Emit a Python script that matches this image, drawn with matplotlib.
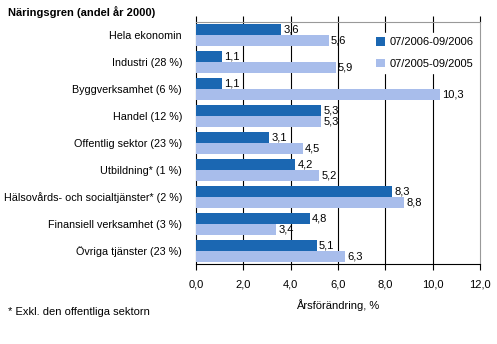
import matplotlib
matplotlib.use("Agg")
import matplotlib.pyplot as plt
import numpy as np

# Data
categories = ["Hela ekonomin", "Industri (28 %)", "Byggverksamhet (6 %)", "Handel (12 %)",
              "Offentlig sektor (23 %)", "Utbildning* (1 %)",
              "Hälsovårds- och socialtjänster* (2 %)", "Finansiell verksamhet (3 %)",
              "Övriga tjänster (23 %)"]
y2006 = [3.6, 1.1, 1.1, 5.3, 3.1, 4.2, 8.3, 4.8, 5.1]
y2005 = [5.6, 5.9, 10.3, 5.3, 4.5, 5.2, 8.8, 3.4, 6.3]
labels = ["07/2006-09/2006", "07/2005-09/2005"]
xticks = [0, 2, 4, 6, 8, 10, 12]

plt.rcParams['font.family'] = ['Liberation Sans', 'DejaVu Sans']
plt.rcParams['font.size'] = 8

dark = "#1b67b2"
light = "#a8bdeb"

fig = plt.figure(figsize=(4.97, 3.44), dpi=100)
ax = fig.add_axes([196/497, 1-264/344, 284/497, 242/344])

n = len(categories)
pos = np.arange(n)
h = 0.41
ax.barh(pos - h/2, y2006, height=h, color=dark, label=labels[0], zorder=3)
ax.barh(pos + h/2, y2005, height=h, color=light, label=labels[1], zorder=3)

def fmt(v):
    return ("%.1f" % v).replace(".", ",")

for i in range(n):
    ax.text(y2006[i] + 0.1, pos[i] - h/2, fmt(y2006[i]), va="center", ha="left", fontsize=8, zorder=1)
    ax.text(y2005[i] + 0.1, pos[i] + h/2, fmt(y2005[i]), va="center", ha="left", fontsize=8, zorder=1)

ax.set_ylim(n - 0.5, -0.5)
ax.set_xlim(0, 12)
ax.set_yticks(pos)
ax.set_yticklabels(categories, fontsize=7.75)
ax.set_xticks(xticks)
ax.set_xticklabels([fmt(t) for t in xticks])
ax.tick_params(axis="y", length=0, pad=10)
ax.tick_params(axis="x", direction="out", length=4, pad=7, top=True, width=0.8)

# gridlines
for t in xticks[1:-1]:
    ax.axvline(t, color="black", linewidth=0.8, zorder=2)

ax.spines["top"].set_color("#999999")
ax.spines["right"].set_color("#999999")
ax.spines["left"].set_color("black")
ax.spines["bottom"].set_color("black")

ax.set_xlabel("Årsförändring, %", labelpad=7)

leg = ax.legend(loc="upper right", bbox_to_anchor=(1.0, 0.965), frameon=True, fancybox=False,
                edgecolor="white", framealpha=1, handlelength=0.8, handleheight=0.8,
                handletextpad=0.4, labelspacing=1.05, borderpad=0.4, borderaxespad=0.2)
leg.set_zorder(5)

fig.text(8/497, 1-12/344, "Näringsgren (andel år 2000)", fontweight="bold", va="center", ha="left")
fig.text(8/497, 1-312/344, "* Exkl. den offentliga sektorn", va="center", ha="left")

fig.savefig("out.png", dpi=100)
